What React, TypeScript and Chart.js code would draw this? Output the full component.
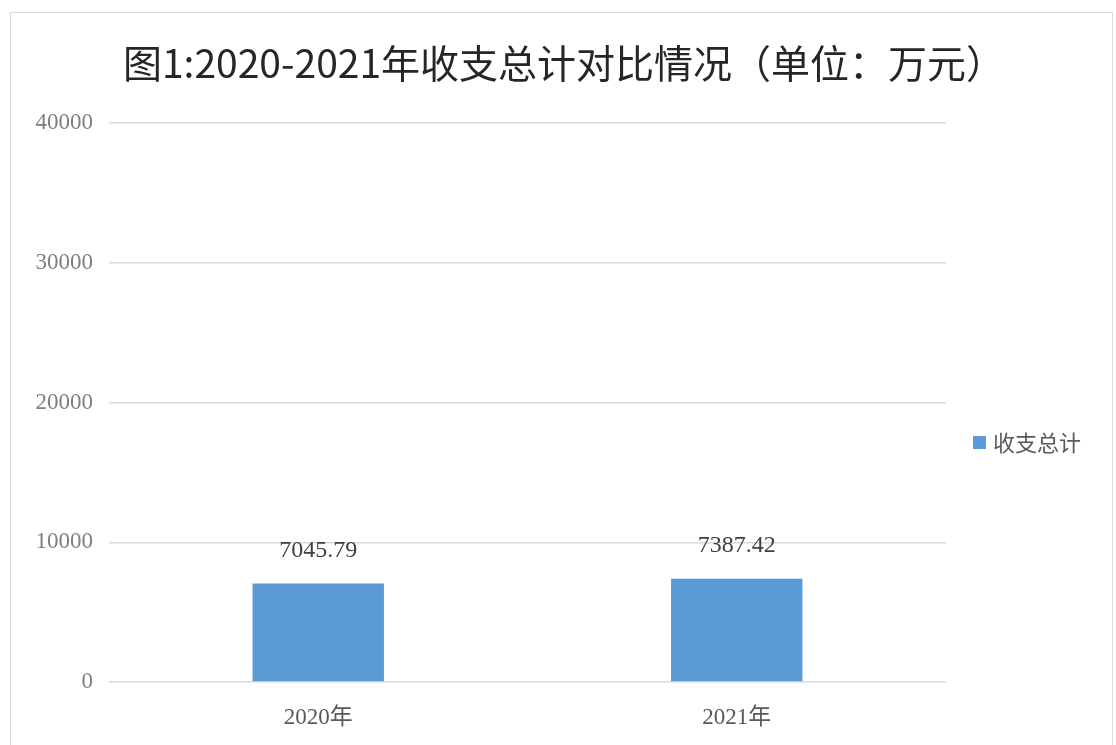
import React, { useEffect, useRef } from "react";
import { Chart, registerables } from "chart.js";

Chart.register(...registerables);

const categories = ["2020年", "2021年"];
const seriesName = "收支总计";
const seriesValues = [7045.79, 7387.42];
const yTicks = [0, 10000, 20000, 30000, 40000];
const titleText = "图1:2020-2021年收支总计对比情况（单位：万元）";

const SERIF = "'Liberation Serif', 'Noto Sans CJK SC', serif";
const CJK = "'Noto Sans CJK SC', sans-serif";

export default function App() {
  const ref = useRef<HTMLCanvasElement | null>(null);

  useEffect(() => {
    if (!ref.current) return;

    const valueLabels = {
      id: "valueLabels",
      afterDatasetsDraw(chart: any) {
        const ctx = chart.ctx;
        chart.data.datasets.forEach((ds: any, di: number) => {
          const meta = chart.getDatasetMeta(di);
          meta.data.forEach((el: any, i: number) => {
            const v = ds.data[i];
            ctx.save();
            ctx.font = `24px ${SERIF}`;
            ctx.fillStyle = "#404040";
            ctx.textAlign = "center";
            ctx.textBaseline = "bottom";
            ctx.fillText(v.toFixed(2), el.x, el.y - 21);
            ctx.restore();
          });
        });
      },
    };

    const centeredTitle = {
      id: "centeredTitle",
      afterDraw(chart: any) {
        const ctx = chart.ctx;
        ctx.save();
        ctx.font = `39px ${CJK}`;
        ctx.fillStyle = "#262626";
        ctx.textAlign = "center";
        ctx.textBaseline = "middle";
        ctx.fillText(titleText, chart.width / 2 + 3, 50);
        ctx.restore();
      },
    };

    const sideLegend = {
      id: "sideLegend",
      afterDraw(chart: any) {
        const ctx = chart.ctx;
        const ds = chart.data.datasets[0];
        const cy = (chart.chartArea.top + chart.chartArea.bottom) / 2 + 40;
        const x0 = chart.chartArea.right + 27;
        ctx.save();
        ctx.fillStyle = ds.backgroundColor;
        ctx.fillRect(x0, cy - 6.5, 13, 13);
        ctx.font = `22px ${CJK}`;
        ctx.fillStyle = "#595959";
        ctx.textAlign = "left";
        ctx.textBaseline = "middle";
        ctx.fillText(ds.label, x0 + 20, cy);
        ctx.restore();
      },
    };

    const chart = new Chart(ref.current, {
      type: "bar",
      data: {
        labels: categories,
        datasets: [
          {
            label: seriesName,
            data: seriesValues,
            backgroundColor: "#5B9BD5",
            borderWidth: 0,
            categoryPercentage: 1,
            barPercentage: 0.314,
          },
        ],
      },
      options: {
        animation: false,
        responsive: false,
        maintainAspectRatio: false,
        layout: { padding: { left: 0, right: 165, top: 110, bottom: 0 } },
        plugins: {
          legend: { display: false },
          tooltip: { enabled: false },
          title: { display: false },
        },
        scales: {
          x: {
            grid: { display: false, drawTicks: false },
            border: { display: false },
            ticks: {
              color: "#595959",
              font: { family: SERIF, size: 23 },
              padding: 22,
            },
            afterFit(scale: any) {
              scale.height = 62;
            },
          },
          y: {
            min: 0,
            max: 40000,
            afterBuildTicks(scale: any) {
              scale.ticks = yTicks.map((v) => ({ value: v }));
            },
            grid: { color: "#d9d9d9", lineWidth: 1.5, drawTicks: false },
            border: { display: false },
            ticks: {
              color: "#7f7f7f",
              font: { family: SERIF, size: 23 },
              padding: 16,
              callback: (v: any) => String(v),
            },
            afterFit(scale: any) {
              scale.width = 98;
            },
          },
        },
      },
      plugins: [valueLabels, sideLegend, centeredTitle],
    });

    return () => chart.destroy();
  }, []);

  return (
    <div
      style={{
        position: "absolute",
        left: 10,
        top: 12,
        width: 1103,
        height: 760,
        border: "1.5px solid #d9d9d9",
        boxSizing: "border-box",
        background: "#fff",
      }}
    >
      <canvas ref={ref} width={1100} height={731} style={{ display: "block" }} />
    </div>
  );
}
